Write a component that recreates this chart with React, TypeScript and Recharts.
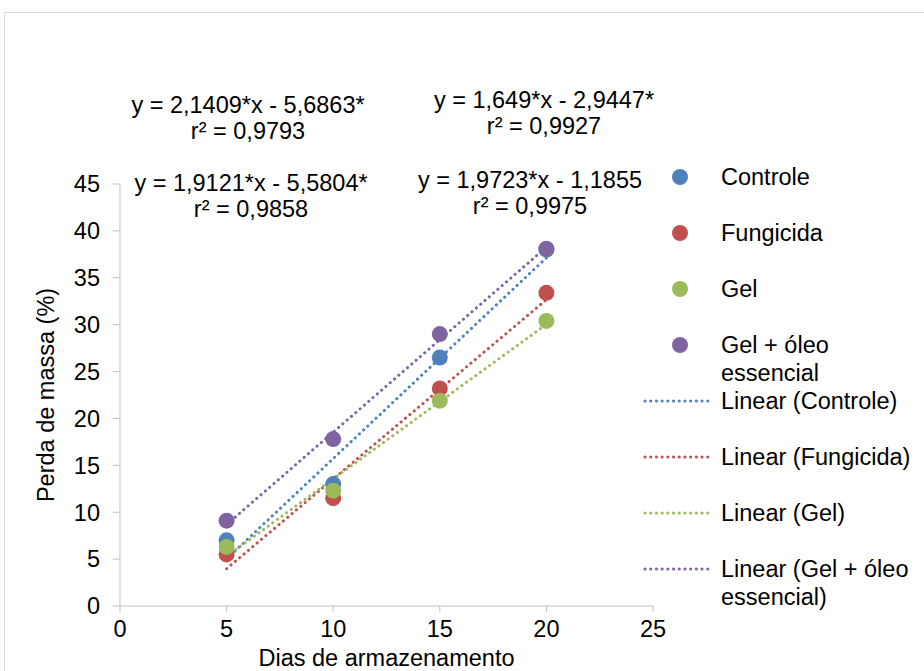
import React from "react";
import { ComposedChart, Scatter, Line, XAxis, YAxis, Label } from "recharts";

// storage days and mass loss (%) per treatment
const days = [5, 10, 15, 20];
const controle = [7.0, 13.0, 26.5, 38.0];
const fungicida = [5.5, 11.5, 23.2, 33.4];
const gel = [6.3, 12.3, 21.9, 30.4];
const gelOleo = [9.1, 17.8, 29.0, 38.1];

const seriesNames = ["Controle", "Fungicida", "Gel", "Gel + óleo essencial"];
const seriesColors = ["#4f81bd", "#c0504d", "#9bbb59", "#8064a2"];

// linear trendlines as printed on the chart
const trendSlopes = [2.1409, 1.9121, 1.649, 1.9723];
const trendIntercepts = [-5.6863, -5.5804, -2.9447, -1.1855];
const trendRange = [5, 20];

const xTicks = [0, 5, 10, 15, 20, 25];
const yTicks = [0, 5, 10, 15, 20, 25, 30, 35, 40, 45];

const equations = [
  { eq: "y = 2,1409*x - 5,6863*", r2: "r² = 0,9793", x: 248, y: 92 },
  { eq: "y = 1,9121*x - 5,5804*", r2: "r² = 0,9858", x: 251, y: 170 },
  { eq: "y = 1,649*x - 2,9447*", r2: "r² = 0,9927", x: 544, y: 87 },
  { eq: "y = 1,9723*x - 1,1855", r2: "r² = 0,9975", x: 530, y: 167 },
];

const values = [controle, fungicida, gel, gelOleo];
const pointData = values.map((vals) => days.map((d, i) => ({ x: d, y: vals[i] })));
const trendData = trendSlopes.map((m, i) =>
  trendRange.map((x) => ({ x, t: m * x + trendIntercepts[i] }))
);

const font = "'Liberation Sans', Arial, sans-serif";
const fs = 23.5;
const axisColor = "#bfbfbf";

export default function App() {
  return (
    <div style={{ position: "absolute", left: 0, top: 0, width: 924, height: 671, overflow: "hidden", background: "#fff", fontFamily: font }}>
      <div style={{ position: "absolute", left: 4, top: 12, width: 960, height: 720, border: "1px solid #d9d9d9" }} />
      <ComposedChart
        width={924}
        height={671}
        margin={{ top: 184, right: 271, bottom: 0, left: 0 }}
        style={{ position: "absolute", left: 0, top: 0 }}
      >
        <XAxis
          type="number"
          dataKey="x"
          domain={[0, 25]}
          ticks={xTicks}
          height={65}
          stroke={axisColor}
          tickSize={6}
          tickMargin={8}
          tick={{ fill: "#000", fontSize: fs, fontFamily: font }}
          allowDataOverflow
        >
          <Label value="Dias de armazenamento" position="insideBottom" offset={5} fill="#000" fontSize={fs} fontFamily={font} />
        </XAxis>
        <YAxis
          type="number"
          domain={[0, 45]}
          ticks={yTicks}
          width={120}
          stroke={axisColor}
          tickSize={7}
          tickMargin={13}
          tick={{ fill: "#000", fontSize: fs, fontFamily: font }}
          allowDataOverflow
        >
          <Label value="Perda de massa (%)" angle={-90} position="insideLeft" offset={46} fill="#000" fontSize={fs} fontFamily={font} style={{ textAnchor: "middle" }} />
        </YAxis>
        {pointData.map((d, i) => (
          <Scatter
            key={"s" + i}
            name={seriesNames[i]}
            data={d}
            dataKey="y"
            fill={seriesColors[i]}
            isAnimationActive={false}
            shape={(p: any) => <circle cx={p.cx} cy={p.cy} r={8} fill={seriesColors[i]} />}
          />
        ))}
        {trendData.map((d, i) => (
          <Line
            key={"t" + i}
            data={d}
            dataKey="t"
            stroke={seriesColors[i]}
            strokeWidth={3}
            strokeDasharray="0.1 5.6"
            strokeLinecap="round"
            dot={false}
            activeDot={false}
            isAnimationActive={false}
          />
        ))}
      </ComposedChart>
      {equations.map((e, i) => (
        <div key={i} style={{ position: "absolute", left: e.x - 160, top: e.y, width: 320, textAlign: "center", fontSize: fs, lineHeight: "26px", color: "#000", whiteSpace: "nowrap" }}>
          <div>{e.eq}</div>
          <div>{e.r2}</div>
        </div>
      ))}
      {seriesNames.map((n, i) => (
        <div key={"l" + i} style={{ position: "absolute", left: 672, top: 163 + 56 * i, fontSize: fs, lineHeight: "28px", color: "#000", display: "flex" }}>
          <div style={{ width: 16, height: 16, borderRadius: 8, background: seriesColors[i], marginTop: 6, marginRight: 33 }} />
          <div style={{ width: 130 }}>{n}</div>
        </div>
      ))}
      {seriesNames.map((n, i) => (
        <div key={"lt" + i} style={{ position: "absolute", left: 643, top: 387 + 56 * i, fontSize: fs, lineHeight: "28px", color: "#000", display: "flex" }}>
          <svg width={70} height={28} style={{ marginRight: 8, flexShrink: 0 }}>
            <line x1={2} y1={14} x2={68} y2={14} stroke={seriesColors[i]} strokeWidth={3} strokeDasharray="0.1 5.6" strokeLinecap="round" />
          </svg>
          <div style={{ width: 200 }}>{"Linear (" + n + ")"}</div>
        </div>
      ))}
    </div>
  );
}
